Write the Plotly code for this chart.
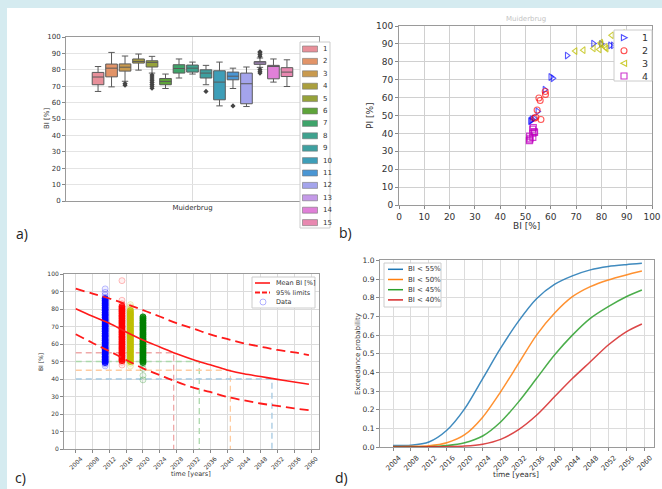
import plotly.graph_objects as go

W, H = 662, 489


def px(x):
    return x / W


def py(y):
    return 1 - y / H


# ---------------- panel a: box plots ----------------
group_labels = [str(i) for i in range(1, 16)]
box_lower = [66.8, 69.6, 73.0, 79.8, 78.0, 68.6, 75.0, 77.4, 70.9, 58.0, 68.6, 57.6, 81.5, 72.5, 69.8]
box_q1 = [70.9, 75.7, 79.2, 84.1, 81.7, 70.9, 78.0, 78.6, 75.0, 61.7, 73.9, 59.3, 83.3, 74.5, 75.9]
box_median = [75.6, 81.0, 81.6, 85.1, 84.5, 72.9, 80.8, 81.0, 78.0, 72.5, 76.1, 71.5, 84.2, 82.0, 78.6]
box_q3 = [78.4, 83.5, 83.6, 86.6, 85.5, 74.7, 83.1, 82.9, 80.0, 79.4, 78.6, 78.0, 85.0, 82.7, 81.3]
box_upper = [82.0, 90.6, 88.4, 89.6, 88.2, 77.4, 86.6, 84.7, 82.7, 84.7, 81.0, 81.7, 87.2, 86.6, 86.1]
box_outliers = [[], [], [71.6, 70.6], [], [76.8, 75.6, 74.4, 73.3, 72.2, 71.1, 70.0, 68.8], [], [], [],
                [66.8], [], [58.0], [], [88.2, 89.3, 90.4, 91.0, 80.2, 79.1, 78.0], [], []]
box_colors = ['#e8909a', '#e29468', '#c99a4e', '#aa9f3d', '#96a23a', '#5ea43a', '#3ea46a', '#3ea28e',
              '#3ea0a0', '#3e9eb8', '#4a96d4', '#a4a4ec', '#c49ae8', '#e080d8', '#e888b0']
category = 'Muiderbrug'

# ---------------- panel b: scatter PI vs BI ----------------
b1_x = [66.4, 76.8, 79.9, 83.5, 84.6, 59.9, 60.8, 57.6, 54.8, 53.4, 52.1, 52.6, 51.9]
b1_y = [83.5, 90.2, 90.0, 89.2, 89.2, 71.5, 70.8, 64.4, 52.3, 48.4, 47.2, 47.9, 46.8]
b2_x = [55.3, 55.8, 57.8, 57.9, 54.6, 54.1, 56.1, 53.5]
b2_y = [59.8, 58.4, 63.4, 61.8, 53.1, 49.0, 47.8, 48.5]
b3_x = [69.7, 72.9, 76.9, 79.2, 79.8, 80.0, 81.6, 82.0, 84.1, 86.5, 88.5]
b3_y = [86.0, 86.5, 87.5, 86.9, 90.7, 89.8, 88.2, 87.4, 94.8, 92.0, 96.0]
b4_x = [53.1, 53.4, 52.9, 51.8, 51.5, 52.8, 53.6, 51.6, 52.9, 51.7]
b4_y = [43.3, 41.0, 40.1, 37.3, 35.9, 42.4, 40.6, 38.5, 37.8, 36.4]
b_names = ['1', '2', '3', '4']

# ---------------- panel c: BI over time ----------------
c_years = [2004, 2008, 2012, 2016, 2020, 2024, 2028, 2032, 2036, 2040, 2044, 2048, 2052, 2056, 2059.5]
c_mean = [80.1, 75.8, 71.9, 66.9, 62.3, 58.3, 54.4, 51.0, 48.1, 45.2, 43.0, 41.4, 39.8, 38.3, 37.0]
c_upper = [91.6, 88.8, 86.0, 82.8, 79.4, 75.7, 71.9, 68.8, 65.5, 62.9, 60.4, 58.5, 56.6, 55.2, 53.7]
c_lower = [65.6, 60.6, 55.9, 50.9, 46.1, 42.2, 38.4, 35.1, 32.6, 29.8, 27.8, 26.0, 24.6, 23.2, 22.2]
# dense survey readings per year
data_2011 = [49.4, 50.3, 51.2, 52.1, 53.0, 54.1, 54.9, 56.0, 57.1, 57.9, 59.0, 60.1, 61.0, 62.0,
             62.9, 64.1, 65.0, 66.0, 67.1, 68.0, 69.0, 70.1, 70.9, 72.0, 73.1, 74.0, 75.0, 76.1, 77.0, 78.0,
             79.1, 80.0, 81.0, 82.1, 83.0, 84.0, 85.0, 85.9]
data_2015 = [50.5, 51.4, 52.5, 53.4, 54.5, 55.4, 56.5, 57.5, 58.4, 59.5, 60.5, 61.4, 62.5, 63.5,
             64.4, 65.5, 66.5, 67.4, 68.5, 69.5, 70.4, 71.5, 72.5, 73.4, 74.5, 75.5, 76.4, 77.5, 78.5, 79.4,
             80.5, 81.5]
data_2017 = [50.0, 51.0, 52.1, 53.0, 54.0, 55.1, 56.0, 57.0, 58.1, 59.0, 60.0, 61.1, 62.0, 63.0,
             64.1, 65.0, 66.0, 67.1, 68.0, 69.0, 70.1, 71.0, 72.0, 73.1, 74.0, 75.0, 76.1, 77.0, 78.0, 79.1]
data_2020 = [49.5, 50.5, 51.4, 52.5, 53.5, 54.4, 55.5, 56.5, 57.4, 58.5, 59.5, 60.4,
             61.5, 62.5, 63.4, 64.5, 65.5, 66.4, 67.5, 68.5, 69.4, 70.5, 71.5, 72.4, 73.5, 74.5, 75.5]
# isolated readings per year
stray_2011 = [47.5, 48.6, 86.6, 88.0, 89.5, 91.5]
stray_2015 = [48.0, 49.6, 83.0, 85.0, 96.2]
stray_2017 = [47.4, 49.0, 80.0, 81.2, 82.5]
stray_2020 = [39.5, 42.0, 46.0, 48.6]
data_years = [2011, 2015, 2017, 2020]
data_sets = [data_2011, data_2015, data_2017, data_2020]
stray_sets = [stray_2011, stray_2015, stray_2017, stray_2020]
data_colors = ['0,0,255', '255,0,0', '191,191,0', '0,128,0']
thresholds = [55, 50, 45, 40]
threshold_years = [2027.3, 2033.4, 2040.8, 2050.7]
threshold_colors = ['#efa9a9', '#abd9ab', '#ffcb9f', '#a5c9e1']

# ---------------- panel d: exceedance probability ----------------
d_years = [2004, 2008, 2012, 2016, 2020, 2024, 2028, 2032, 2036, 2040, 2044, 2048, 2052, 2056, 2059.5]
p_55 = [0.008, 0.010, 0.027, 0.090, 0.206, 0.367, 0.530, 0.675, 0.795, 0.872, 0.918, 0.950, 0.968, 0.978, 0.985]
p_50 = [0.003, 0.004, 0.007, 0.023, 0.066, 0.160, 0.296, 0.448, 0.600, 0.717, 0.806, 0.860, 0.896, 0.923, 0.944]
p_45 = [0.001, 0.001, 0.002, 0.008, 0.023, 0.059, 0.134, 0.242, 0.367, 0.493, 0.600, 0.690, 0.753, 0.806, 0.842]
p_40 = [0.000, 0.000, 0.001, 0.002, 0.005, 0.015, 0.041, 0.093, 0.170, 0.269, 0.367, 0.457, 0.547, 0.618, 0.660]
d_names = ['BI < 55%', 'BI < 50%', 'BI < 45%', 'BI < 40%']
d_colors = ['#1f77b4', '#ff7f0e', '#2ca02c', '#d62728']

FONT = 'DejaVu Sans'
fig = go.Figure()

# ---- a ----
n = len(group_labels)
centers = [-0.4 + (i + 0.5) * 0.8 / n for i in range(n)]
for i in range(n):
    fig.add_trace(go.Box(
        x=[centers[i]], q1=[box_q1[i]], median=[box_median[i]], q3=[box_q3[i]],
        lowerfence=[box_lower[i]], upperfence=[box_upper[i]], width=0.046, whiskerwidth=0.55,
        fillcolor=box_colors[i], line=dict(color='#5a5a5a', width=1), boxpoints=False,
        name=group_labels[i], showlegend=False, hoverinfo='skip', xaxis='x', yaxis='y'))
    if box_outliers[i]:
        fig.add_trace(go.Scatter(
            x=[centers[i]] * len(box_outliers[i]), y=box_outliers[i], mode='markers',
            marker=dict(symbol='diamond', size=4, color='#444444'),
            showlegend=False, hoverinfo='skip', xaxis='x', yaxis='y'))

# ---- b ----
b_sets = [(b1_x, b1_y, 'triangle-right-open', 'rgba(0,0,255,0.65)'),
          (b2_x, b2_y, 'circle-open', 'rgba(255,0,0,0.65)'),
          (b3_x, b3_y, 'triangle-left-open', 'rgba(191,191,0,0.75)'),
          (b4_x, b4_y, 'square-open', 'rgba(191,0,191,0.75)')]
for (xs, ys, sym, col), nm in zip(b_sets, b_names):
    fig.add_trace(go.Scatter(x=xs, y=ys, mode='markers', name=nm,
                             marker=dict(symbol=sym, size=6, color=col, line=dict(width=1.1, color=col)),
                             showlegend=False, hoverinfo='skip', xaxis='x2', yaxis='y2'))

# ---- c ----
for thr, yr, col in zip(thresholds, threshold_years, threshold_colors):
    fig.add_trace(go.Scatter(x=[c_years[0], yr, yr], y=[thr, thr, 0], mode='lines',
                             line=dict(color=col, width=1.3, dash='6px,4px'),
                             showlegend=False, hoverinfo='skip', xaxis='x3', yaxis='y3'))
for yr, vals, strays, col in zip(data_years, data_sets, stray_sets, data_colors):
    fig.add_trace(go.Scatter(x=[yr] * len(strays), y=strays, mode='markers',
                             marker=dict(symbol='circle', size=6, color='rgba(%s,0.06)' % col,
                                         line=dict(width=1, color='rgba(%s,0.25)' % col)),
                             showlegend=False, hoverinfo='skip', xaxis='x3', yaxis='y3'))
    fig.add_trace(go.Scatter(x=[yr] * len(vals), y=vals, mode='markers',
                             marker=dict(symbol='circle', size=6, color='rgba(%s,0.75)' % col,
                                         line=dict(width=1, color='rgba(%s,0.9)' % col)),
                             showlegend=False, hoverinfo='skip', xaxis='x3', yaxis='y3'))
fig.add_trace(go.Scatter(x=c_years, y=c_mean, mode='lines', line=dict(color='#ff1a1a', width=1.6, shape='spline'),
                         showlegend=False, hoverinfo='skip', xaxis='x3', yaxis='y3'))
for arr in (c_upper, c_lower):
    fig.add_trace(go.Scatter(x=c_years, y=arr, mode='lines',
                             line=dict(color='#ff1a1a', width=1.8, dash='9px,5px', shape='spline'),
                             showlegend=False, hoverinfo='skip', xaxis='x3', yaxis='y3'))

# ---- d ----
for arr, nm, col in zip([p_55, p_50, p_45, p_40], d_names, d_colors):
    fig.add_trace(go.Scatter(x=d_years, y=arr, mode='lines', name=nm,
                             line=dict(color=col, width=1.5, shape='spline', smoothing=0.8),
                             opacity=0.85, showlegend=False, hoverinfo='skip', xaxis='x4', yaxis='y4'))


def axis(domain, **kw):
    d = dict(domain=domain, showline=True, mirror=True, linecolor='#9a9a9a', linewidth=1,
             showgrid=True, gridcolor='#dcdcdc', gridwidth=1, zeroline=False, automargin=False,
             ticks='outside', ticklen=3, tickcolor='#888888',
             tickfont=dict(family=FONT, size=7, color='#333333'))
    d.update(kw)
    return d


year_ticks = list(range(2004, 2061, 4))
layout = dict(
    width=W, height=H, margin=dict(l=0, r=0, t=0, b=0), template='none',
    paper_bgcolor='#d5ebf0', plot_bgcolor='white', showlegend=False,
    xaxis=axis([px(66), px(319)], anchor='y', range=[-0.5, 0.5], tickvals=[0], ticktext=[category], ticks=''),
    yaxis=axis([py(201), py(37)], anchor='x', range=[0, 100], dtick=10, gridcolor='#e4e4e4'),
    xaxis2=axis([px(399), px(652)], anchor='y2', range=[0, 100], dtick=10,
                tickfont=dict(family=FONT, size=9, color='#333333'), gridcolor='#d0d0d0', gridwidth=1.3),
    yaxis2=axis([py(205), py(26)], anchor='x2', range=[0, 100], dtick=10,
                tickfont=dict(family=FONT, size=9, color='#333333'), gridcolor='#d0d0d0', gridwidth=1.3),
    xaxis3=axis([px(64), px(319)], anchor='y3', range=[2001.2, 2061.9], tickvals=year_ticks, tickangle=-45,
                ticklabelshift=5, tickfont=dict(family=FONT, size=6, color='#333333')),
    yaxis3=axis([py(449), py(274)], anchor='x3', range=[0, 100], dtick=10,
                tickfont=dict(family=FONT, size=6, color='#333333')),
    xaxis4=axis([px(380), px(654)], anchor='y4', range=[2001.1, 2062.2], tickvals=year_ticks, tickangle=-45,
                ticklabelshift=6, tickfont=dict(family=FONT, size=7, color='#333333')),
    yaxis4=axis([py(447), py(260)], anchor='x4', range=[0, 1.003], dtick=0.1, tickformat='.1f',
                tickfont=dict(family=FONT, size=7.5, color='#333333')),
)
fig.update_layout(**layout)

shapes = []
ann = []
# white content background
shapes.append(dict(type='rect', xref='paper', yref='paper', x0=px(7), x1=1, y0=0, y1=py(8),
                   fillcolor='white', line=dict(width=0), layer='below'))


def text(x, y, s, size=7, color='#333333', angle=0, xanchor='center', family=FONT):
    ann.append(dict(x=px(x), y=py(y), xref='paper', yref='paper', text=s, showarrow=False,
                    font=dict(family=family, size=size, color=color), textangle=angle,
                    xanchor=xanchor, yanchor='middle'))


def box(x0, y0, x1, y1, fill='white', line='#cccccc', lw=1):
    shapes.append(dict(type='rect', xref='paper', yref='paper', x0=px(x0), x1=px(x1), y0=py(y1), y1=py(y0),
                       fillcolor=fill, line=dict(color=line, width=lw), layer='above'))


def hline(x0, x1, y, color, width=1.5, dash='solid'):
    shapes.append(dict(type='line', xref='paper', yref='paper', x0=px(x0), x1=px(x1), y0=py(y), y1=py(y),
                       line=dict(color=color, width=width, dash=dash), layer='above'))


# axis titles
text(47, 119, 'BI [%]', size=7, angle=-90)
text(526, 226, 'BI [%]', size=9)
text(370, 116, 'PI [%]', size=9, angle=-90)
text(526, 19, category, size=7, color='#c4c4c4')
text(191, 474, 'time [years]', size=6.5)
text(40, 362, 'BI [%]', size=6, angle=-90)
text(516, 474, 'time [years]', size=7.5)
text(358, 354, 'Exceedance probability', size=7, angle=-90)

# panel labels
for lab, x, y in [('a)', 22, 233), ('b)', 345, 232), ('c)', 20, 477), ('d)', 341, 477)]:
    text(x, y, lab, size=14, color='#222222', family='Open Sans')

# legend a
box(300, 42, 330, 228)
for i, (lab, col) in enumerate(zip(group_labels, box_colors)):
    yc = 49 + i * 12.4
    box(302.5, yc - 3, 317.5, yc + 3, fill=col, line='#777777', lw=0.6)
    text(320.5, yc, lab, size=7, xanchor='left')

# legend b
box(614, 30, 652, 81)
rows = [37.7, 50.7, 63.3, 76.0]
cx = 624
r = 3.0
sym_cols = ['rgba(0,0,255,0.7)', 'rgba(255,0,0,0.7)', 'rgba(191,191,0,0.8)', 'rgba(191,0,191,0.8)']
y0 = rows[0]
shapes.append(dict(type='path', xref='paper', yref='paper', layer='above',
                   path='M %f,%f L %f,%f L %f,%f Z' % (px(cx - 2.6), py(y0 - r), px(cx - 2.6), py(y0 + r), px(cx + 3.2), py(y0)),
                   line=dict(color=sym_cols[0], width=1.1)))
y0 = rows[1]
shapes.append(dict(type='circle', xref='paper', yref='paper', layer='above',
                   x0=px(cx - r), x1=px(cx + r), y0=py(y0 + r), y1=py(y0 - r),
                   line=dict(color=sym_cols[1], width=1.1)))
y0 = rows[2]
shapes.append(dict(type='path', xref='paper', yref='paper', layer='above',
                   path='M %f,%f L %f,%f L %f,%f Z' % (px(cx + 2.6), py(y0 - r), px(cx + 2.6), py(y0 + r), px(cx - 3.2), py(y0)),
                   line=dict(color=sym_cols[2], width=1.1)))
y0 = rows[3]
shapes.append(dict(type='rect', xref='paper', yref='paper', layer='above',
                   x0=px(cx - r), x1=px(cx + r), y0=py(y0 + r), y1=py(y0 - r),
                   line=dict(color=sym_cols[3], width=1.1)))
for yy, lab in zip(rows, b_names):
    text(640, yy, lab, size=9.5, xanchor='left')

# legend c
box(252, 277, 315, 308)
hline(255, 270, 283, '#ff1a1a', 1.6)
hline(255, 270, 292.5, '#ff1a1a', 1.8, '5px,2px')
shapes.append(dict(type='circle', xref='paper', yref='paper', layer='above',
                   x0=px(260), x1=px(266), y0=py(305), y1=py(299),
                   line=dict(color='rgba(0,0,255,0.3)', width=1)))
text(274, 283, 'Mean BI [%]', size=6.5, xanchor='left')
text(274, 292.5, '95% limits', size=6.5, xanchor='left')
text(274, 302, 'Data', size=6.5, xanchor='left')

# legend d
box(384, 263, 441, 307)
for i, (lab, col) in enumerate(zip(d_names, d_colors)):
    yy = 269.3 + i * 10.2
    hline(388, 403, yy, col, 1.5)
    text(406, yy, lab, size=7, xanchor='left')

fig.update_layout(shapes=shapes, annotations=ann)
fig.write_html('out.html', config={'displayModeBar': False},
               post_script="document.body.style.margin='0';document.body.style.padding='0';"
                           "document.body.style.overflow='hidden';")
